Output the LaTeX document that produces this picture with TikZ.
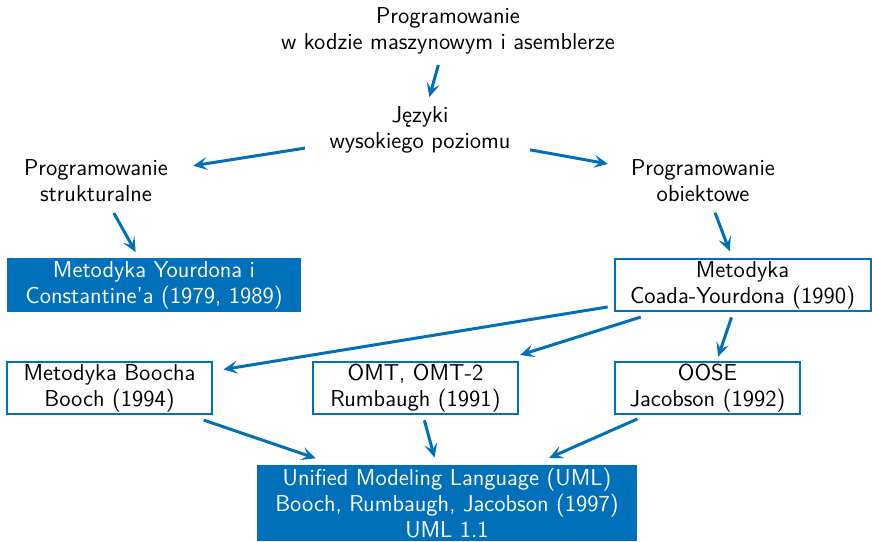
\documentclass[tikz,border=0pt]{standalone}
\usetikzlibrary{calc,arrows.meta}
\definecolor{ublue}{RGB}{0,112,186}
\begin{document}
\begin{tikzpicture}[x=0.5pt,y=-0.5pt,
  font=\sffamily\fontsize{11.5}{13}\selectfont,
  txt/.style={align=center, inner sep=0pt},
  obox/.style={draw=ublue, line width=1pt, fill=white, align=center, inner sep=0pt, minimum height=26pt},
  fbox/.style={fill=ublue, text=white, align=center, inner sep=0pt},
  arr/.style={draw=ublue, line width=1.5pt, -{Stealth[length=7pt,width=6.5pt,inset=3pt]}}]
\useasboundingbox (0,0) rectangle (872,541);
\node[txt] (top) at (448,31) {Programowanie\\w kodzie maszynowym i asemblerze};
\node[txt] (jez) at (420,130) {Języki\\wysokiego poziomu};
\node[txt] (str) at (96,181) {Programowanie\\strukturalne};
\node[txt] (obi) at (703,181) {Programowanie\\obiektowe};
\node[fbox, minimum width=147pt, minimum height=27pt] (you) at (154,285) {Metodyka Yourdona i\\Constantine’a (1979, 1989)};
\node[obox, minimum width=128pt] (coa) at (742.5,285) {Metodyka\\Coada-Yourdona (1990)};
\node[obox, minimum width=102.5pt] (boo) at (109.5,388) {Metodyka Boocha\\Booch (1994)};
\node[obox, minimum width=102.5pt] (omt) at (415.5,388) {OMT, OMT-2\\Rumbaugh (1991)};
\node[obox, minimum width=92.5pt] (oose) at (707.5,388) {OOSE\\Jacobson (1992)};
\node[fbox, minimum width=190pt, minimum height=38pt] (uml) at (447,503) {Unified Modeling Language (UML)\\Booch, Rumbaugh, Jacobson (1997)\\UML 1.1};
\draw[arr] ($(top)!0.343!(jez)$) -- ($(top)!0.667!(jez)$);
\draw[arr] ($(jez)!0.355!(str)$) -- ($(jez)!0.70!(str)$);
\draw[arr] ($(jez)!0.389!(obi)$) -- ($(jez)!0.664!(obi)$);
\draw[arr] ($(str)!0.308!(you)$) -- ($(str)!0.683!(you)$);
\draw[arr] ($(obi)!0.305!(coa)$) -- ($(obi)!0.676!(coa)$);
\draw[arr] ($(coa)!0.213!(boo)$) -- ($(coa)!0.82!(boo)$);
\draw[arr] ($(coa)!0.311!(omt)$) -- ($(coa)!0.68!(omt)$);
\draw[arr] ($(coa)!0.314!(oose)$) -- ($(coa)!0.696!(oose)$);
\draw[arr] ($(boo)!0.279!(uml)$) -- ($(boo)!0.611!(uml)$);
\draw[arr] ($(omt)!0.281!(uml)$) -- ($(omt)!0.605!(uml)$);
\draw[arr] ($(oose)!0.269!(uml)$) -- ($(oose)!0.608!(uml)$);
\end{tikzpicture}
\end{document}
